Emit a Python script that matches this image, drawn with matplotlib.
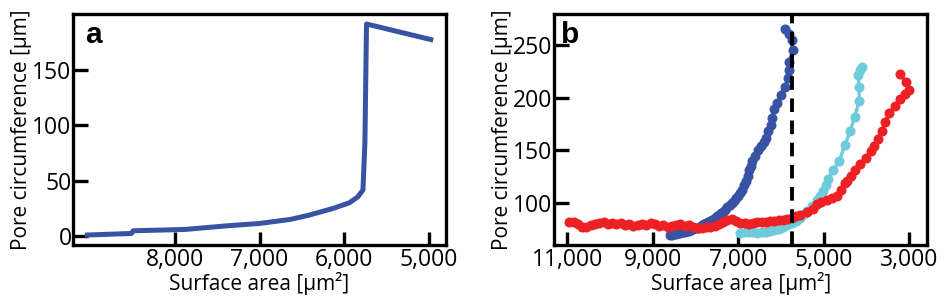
import matplotlib
matplotlib.use('Agg')
import matplotlib.pyplot as plt

plt.rcParams['font.family'] = ['Open Sans', 'DejaVu Sans']

# panel a: single pore trace
area_a = [9030, 8510, 8490, 7880, 7430, 7000, 6640, 6410, 6130, 5940,
          5840, 5780, 5757, 5738, 4980]
circ_a = [1, 2.4, 4.8, 6, 9, 11.4, 15, 19, 25, 30,
          35.4, 41.5, 84, 191, 177]

# panel b: three traces
area_blue = [8600, 8550, 8500, 8450, 8400, 8350, 8300, 8250, 8200, 8150,
             8100, 8050, 8000, 7950, 7900, 7850, 7800, 7750, 7700, 7650,
             7600, 7550, 7500, 7450, 7400, 7350, 7300, 7250, 7200, 7150,
             7100, 7050, 7000, 6950, 6900, 6860, 6820, 6780, 6740, 6705,
             6670, 6600, 6540, 6464, 6400, 6347, 6290, 6237, 6200, 6159,
             6080, 6003, 5910, 5824, 5800, 5800, 5722, 5745, 5800, 5902]
circ_blue = [69.5, 70, 70.5, 71, 71.5, 72, 72.5, 73, 73.5, 74,
             74.7, 75.5, 76.3, 77, 78, 79, 80, 81, 82, 83,
             84.5, 86, 87.5, 89, 90.5, 92, 94, 96, 98, 100,
             102, 104.5, 107, 110, 113, 117, 121, 126, 131, 135,
             140, 145, 150, 154, 158, 162, 168, 174, 181, 188.7,
             195, 202, 210, 218, 226, 234, 244.5, 254.5, 260, 265]

area_cyan = [6950, 6850, 6750, 6650, 6550, 6450, 6350, 6250, 6150, 6050,
             5950, 5850, 5750, 5650, 5550, 5450, 5380, 5280, 5160, 5080,
             5019, 4950, 4902, 4780, 4630, 4500, 4379, 4270, 4161, 4170,
             4185, 4150, 4105]
circ_cyan = [72, 73, 72.5, 73, 72, 72.5, 73, 74, 75, 76,
             77.5, 79, 81, 83.5, 86.5, 90, 93, 97, 102.6, 107,
             112, 117, 122.5, 131, 140.4, 155, 168, 182, 196.7, 210,
             221, 226, 228.9]

area_red = [10950, 10850, 10750, 10650, 10550, 10450, 10350, 10250, 10150, 10050,
            9950, 9850, 9750, 9650, 9550, 9450, 9350, 9250, 9150, 9050,
            8950, 8850, 8750, 8650, 8550, 8450, 8350, 8250, 8150, 8050,
            7950, 7850, 7750, 7650, 7550, 7450, 7350, 7250, 7150, 7050,
            6950, 6850, 6750, 6650, 6550, 6450, 6350, 6250, 6150, 6050,
            5950, 5850, 5750, 5650, 5550, 5394, 5250, 5160, 5050, 4925,
            4800, 4691, 4600, 4500, 4457, 4350, 4262, 4150, 4012, 3900,
            3817, 3720, 3637, 3550, 3459, 3330, 3209, 3100, 2990, 3080,
            3209]
circ_red = [82.5, 82, 80, 78, 77.5, 79, 80.5, 81, 82, 80,
            81, 80.5, 81.5, 79.5, 80, 78.5, 79.5, 80, 79, 81,
            80.5, 78.5, 79, 78, 78.5, 79.5, 80, 78.5, 79.5, 78,
            77, 76.5, 77.5, 78, 78.5, 80, 82, 84, 85, 83,
            81.5, 81, 80.5, 81, 82, 82.5, 82, 83.5, 83, 84,
            84.5, 85, 86, 87.5, 89, 91.5, 95, 99, 101, 102.6,
            105, 107.3, 113, 119, 121.5, 126, 131, 137, 143, 149,
            153.7, 161, 168.8, 177, 185.3, 192, 198.8, 203, 207.4, 215,
            222.5]

threshold_area = 5745

blue = '#3953a4'
cyan = '#6dcbdc'
red = '#ed2024'

fig = plt.figure(figsize=(9.48, 3.05), dpi=100)
ax_a = fig.add_axes([0.0770, 0.1967, 0.3935, 0.7574])
ax_b = fig.add_axes([0.5844, 0.1967, 0.3938, 0.7574])


def style_axes(ax):
    for s in ax.spines.values():
        s.set_linewidth(2.4)
    ax.tick_params(direction='in', width=2.4, labelsize=16.5)
    ax.tick_params(axis='x', length=9.5, pad=2)
    ax.tick_params(axis='y', length=11, pad=1)
    ax.set_xlabel('Surface area [µm²]', fontsize=15, labelpad=0)
    ax.set_ylabel('Pore circumference [µm]', fontsize=15, labelpad=0)


# a
ax_a.plot(area_a, circ_a, color=blue, lw=3.6)
ax_a.set_xlim(9200, 4800)
ax_a.set_ylim(-8, 200)
ax_a.set_xticks([8000, 7000, 6000, 5000])
ax_a.set_xticklabels(['8,000', '7,000', '6,000', '5,000'])
ax_a.set_yticks([0, 50, 100, 150])
style_axes(ax_a)
ax_a.text(0.032, 0.873, 'a', transform=ax_a.transAxes, fontsize=21.5,
          fontweight='bold', family='Liberation Sans', va='baseline')

# b
ax_b.plot(area_blue, circ_blue, color=blue, lw=2.4, marker='o', ms=6.2)
ax_b.plot(area_cyan, circ_cyan, color=cyan, lw=2.4, marker='o', ms=6.2)
ax_b.plot(area_red, circ_red, color=red, lw=2.4, marker='o', ms=6.2)
ax_b.axvline(threshold_area, color='black', lw=2.8, dashes=(3.5, 2.2))
ax_b.set_xlim(11310, 2570)
ax_b.set_ylim(60.5, 279)
ax_b.set_xticks([11000, 9000, 7000, 5000, 3000])
ax_b.set_xticklabels(['11,000', '9,000', '7,000', '5,000', '3,000'])
ax_b.set_yticks([100, 150, 200, 250])
style_axes(ax_b)
ax_b.text(0.020, 0.873, 'b', transform=ax_b.transAxes, fontsize=21.5,
          fontweight='bold', family='Liberation Sans', va='baseline')

fig.savefig('out.png', dpi=100)
